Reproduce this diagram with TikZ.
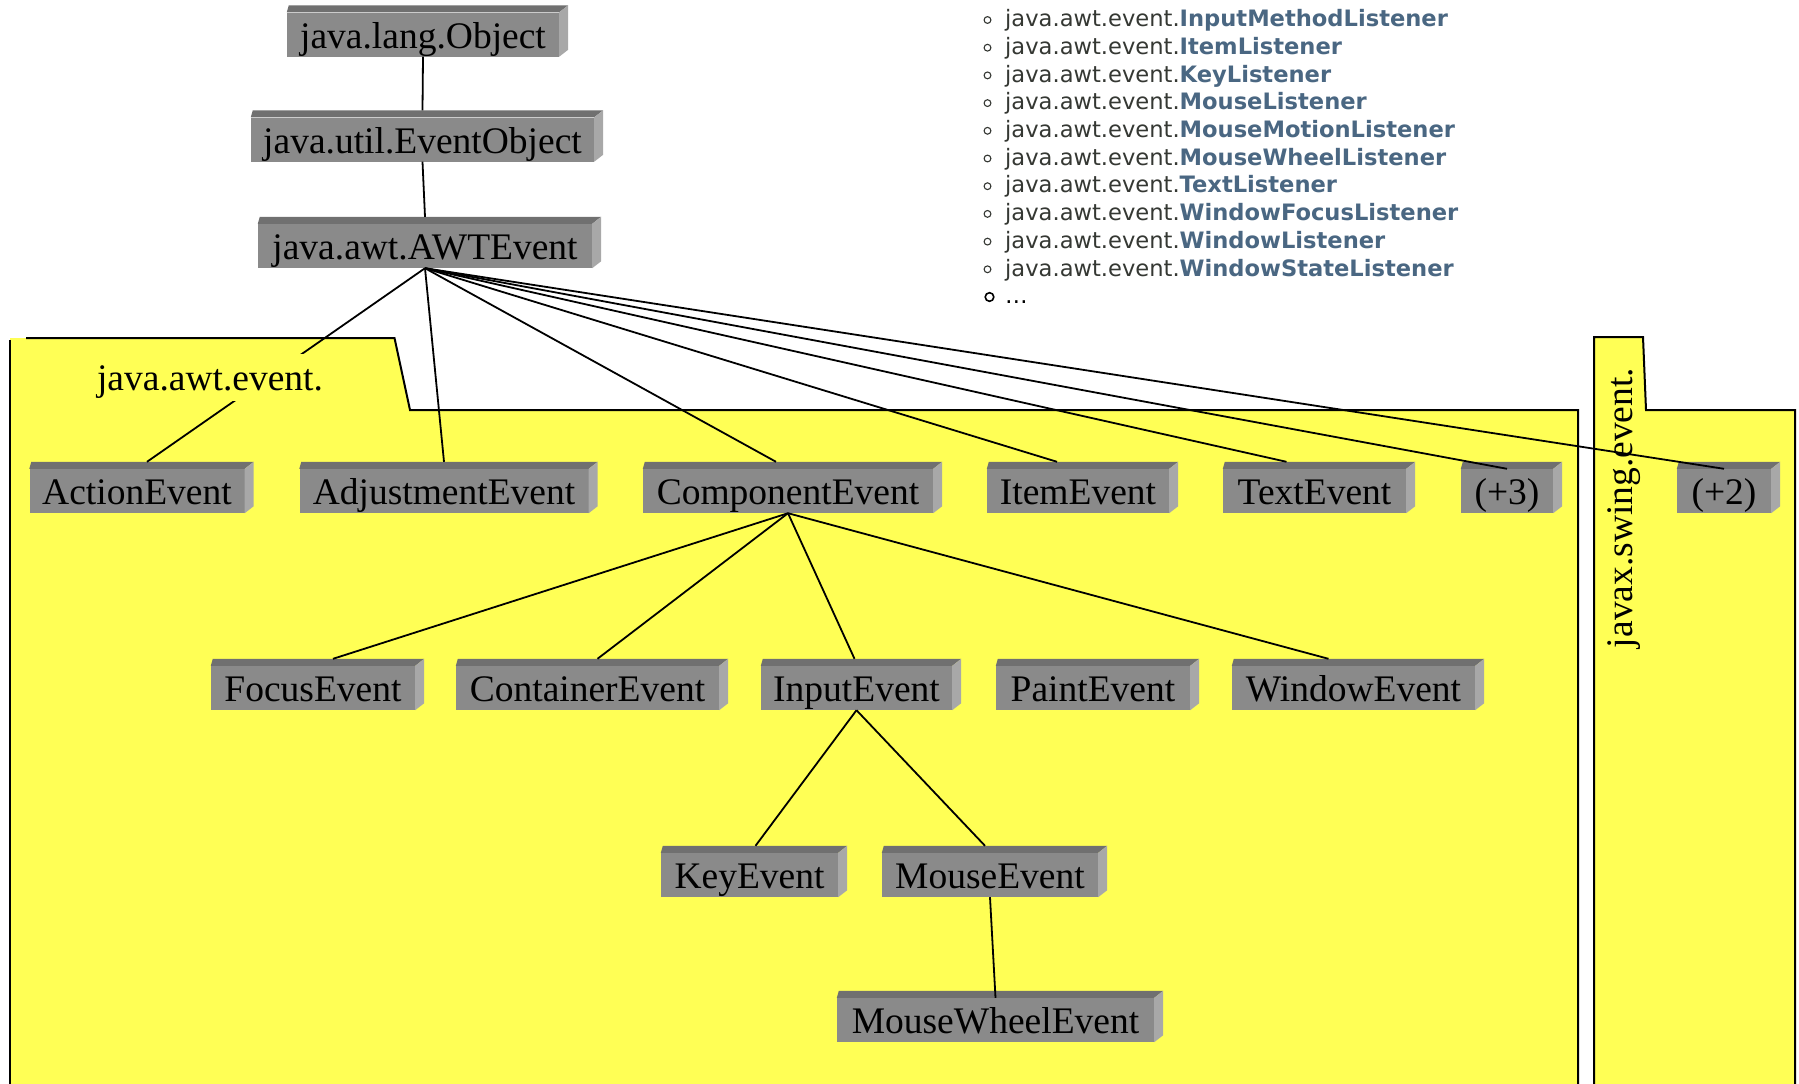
\documentclass[tikz,border=0pt]{standalone}
\usepackage{fontspec}
\setmainfont{Liberation Serif}
\newfontfamily\dejavu{DejaVu Sans}
\usetikzlibrary{calc}
\definecolor{fold}{RGB}{255,255,85}
\definecolor{face}{RGB}{138,138,138}
\definecolor{bvtop}{RGB}{112,112,112}
\definecolor{bvright}{RGB}{168,168,168}
\definecolor{listgray}{RGB}{53,56,51}
\definecolor{listblue}{RGB}{74,103,130}
\begin{document}
\begin{tikzpicture}[x=1pt,y=-1pt,
  cls/.style={fill=face, draw=none, minimum height=44pt, inner xsep=0pt, inner ysep=0pt,
    text height=35pt, text depth=7.4pt, font=\fontsize{37.5}{44}\selectfont},
  pkglabel/.style={fill=fold, text height=32pt, text depth=7.4pt, font=\fontsize{37.5}{44}\selectfont},
  conn/.style={draw=black, line width=1.8pt},
  outl/.style={draw=black, line width=2pt, line join=miter},
  lst/.style={anchor=base west, inner sep=0pt, font=\dejavu\fontsize{22.6}{27}\selectfont, text=listgray},
  smallbullet/.style={draw=listgray, line width=1.1pt},
  bigbullet/.style={draw=black, line width=1.6pt}
]
\useasboundingbox (0,0) rectangle (1799,1084);
\fill[white] (0,0) rectangle (1799,1084);

% folder java.awt.event.
\fill[fold] (10,338) -- (394.5,338) -- (410,410) -- (1578,410) -- (1578,1084) -- (10,1084) -- cycle;
\draw[outl] (26,338) -- (394.5,338) -- (410,410) -- (1578,410) -- (1578,1084);
\draw[outl] (10,340) -- (10,1084);

% folder javax.swing.event.
\fill[fold] (1594,337) -- (1643,337) -- (1646,410) -- (1795,410) -- (1795,1084) -- (1594,1084) -- cycle;
\node[pkglabel, rotate=90, inner xsep=4pt, inner ysep=1pt] (pkgswing) at (1620,508) {javax.swing.event.};
\draw[outl] (1594,1084) -- (1594,337) -- (1643,337) -- (1646,410) -- (1795,410) -- (1795,1084);

% class boxes
\node[cls, minimum width=272pt] (obj) at (423,34.5) {java.lang.Object};
\node[cls, minimum width=343pt] (evobj) at (422.5,139.5) {java.util.EventObject};
\node[cls, minimum width=334pt] (awt) at (425,246) {java.awt.AWTEvent};

\node[cls, minimum width=215pt] (action) at (137,491) {ActionEvent};
\node[cls, minimum width=289pt] (adjust) at (444,491) {AdjustmentEvent};
\node[cls, minimum width=290pt] (comp) at (788,491) {ComponentEvent};
\node[cls, minimum width=182pt] (item) at (1078,491) {ItemEvent};
\node[cls, minimum width=183pt] (textev) at (1314.5,491) {TextEvent};
\node[cls, minimum width=92pt] (plusthree) at (1507,491) {(+3)};
\node[cls, minimum width=94pt] (plustwo) at (1724,491) {(+2)};

\node[cls, minimum width=204pt] (focus) at (313,688) {FocusEvent};
\node[cls, minimum width=263pt] (cont) at (587.5,688) {ContainerEvent};
\node[cls, minimum width=191pt] (input) at (856.5,688) {InputEvent};
\node[cls, minimum width=194pt] (paint) at (1093,688) {PaintEvent};
\node[cls, minimum width=243pt] (window) at (1353.5,688) {WindowEvent};

\node[cls, minimum width=177pt] (key) at (749.5,875) {KeyEvent};
\node[cls, minimum width=216pt] (mouse) at (990,875) {MouseEvent};

\node[cls, minimum width=317pt] (wheel) at (995.5,1020) {MouseWheelEvent};

% bevels
\foreach \n in {obj,evobj,awt,action,adjust,comp,item,textev,plusthree,plustwo,focus,cont,input,paint,window,key,mouse,wheel}{
  \fill[bvtop] (\n.north west) -- ++(2,-7) -- ($(\n.north east)+(9,-7)$) -- (\n.north east) -- cycle;
  \fill[bvright] (\n.north east) -- ++(9,-7) -- ($(\n.south east)+(9,-7)$) -- (\n.south east) -- cycle;
}

% connectors
\draw[conn] (obj.south) -- ([yshift=7pt]evobj.north);
\draw[conn] (evobj.south) -- ([yshift=7pt]awt.north);
\draw[conn] (awt.south) -- ([xshift=10pt,yshift=7pt]action.north);
\draw[conn] (awt.south) -- ([yshift=7pt]adjust.north);
\draw[conn] (awt.south) -- ([xshift=-12pt,yshift=7pt]comp.north);
\draw[conn] (awt.south) -- ([xshift=-21pt,yshift=7pt]item.north);
\draw[conn] (awt.south) -- ([xshift=-28pt,yshift=7pt]textev.north);
\draw[conn] (awt.south) -- (plusthree.north);
\draw[conn] (awt.south) -- (plustwo.north);
\draw[conn] (comp.south) -- ([xshift=20pt,yshift=7pt]focus.north);
\draw[conn] (comp.south) -- ([xshift=10pt,yshift=7pt]cont.north);
\draw[conn] (comp.south) -- ([xshift=-2pt,yshift=7pt]input.north);
\draw[conn] (comp.south) -- ([xshift=-25pt,yshift=7pt]window.north);
\draw[conn] (input.south) -- ([xshift=6pt,yshift=7pt]key.north);
\draw[conn] (input.south) -- ([xshift=-5pt,yshift=7pt]mouse.north);
\draw[conn] (mouse.south) -- (wheel.north);

% package label over the connector
\node[pkglabel, inner xsep=5pt, inner ysep=4pt] (pkgawt) at (210,377.7) {java.awt.event.};

% listener list
\foreach \i/\nm in {0/InputMethodListener,1/ItemListener,2/KeyListener,3/MouseListener,4/MouseMotionListener,5/MouseWheelListener,6/TextListener,7/WindowFocusListener,8/WindowListener,9/WindowStateListener}{
  \draw[smallbullet] (987.5,{20+27.7*\i}) circle[radius=3.4pt];
  \node[lst] (li\i) at (1005,{26.7+27.7*\i}) {java.awt.event.\textbf{\color{listblue}\nm}};
}
\draw[bigbullet] (989.5,297) circle[radius=4.3pt];
\node[lst, text=black] (limore) at (1005,303.5) {…};
\end{tikzpicture}
\end{document}
